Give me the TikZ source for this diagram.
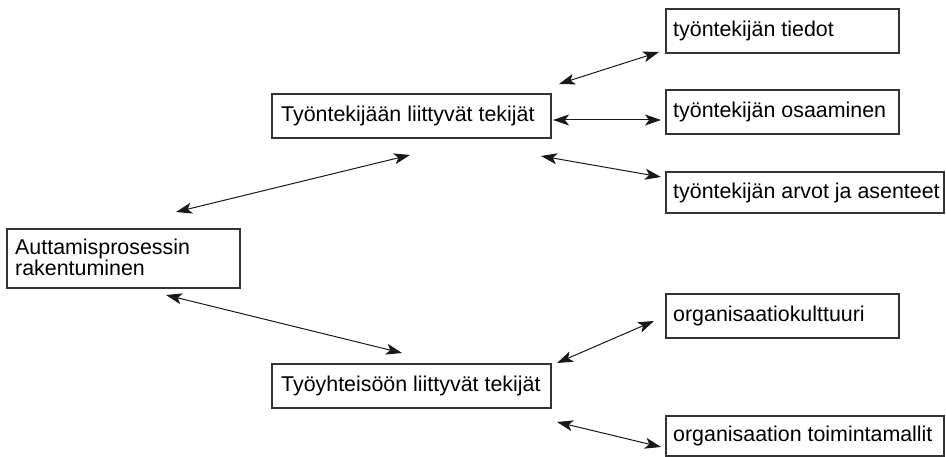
\documentclass[tikz,border=0pt]{standalone}
\usepackage{fontspec}
\setmainfont{Liberation Sans}
\usetikzlibrary{arrows.meta}
\begin{document}
\begin{tikzpicture}[x=1pt,y=-1pt,
  frame/.style={draw=black!80, line width=1.1pt, outer sep=0pt, inner sep=0pt, anchor=north west},
  txt/.style={inner sep=0pt, anchor=west, align=left, font=\fontsize{21.4}{21.5}\selectfont},
  link/.style={line width=1pt, draw=black!90,
    {Stealth[length=16pt,width=11pt,inset=4pt]}-{Stealth[length=16pt,width=11pt,inset=4pt]}}]
\useasboundingbox (0,0) rectangle (946,457);
% boxes
\node[frame, minimum width=233, minimum height=59] (aut) at (7,229) {};
\node[frame, minimum width=279, minimum height=44] (tyo) at (272,94) {};
\node[frame, minimum width=279, minimum height=44] (yht) at (272,364) {};
\node[frame, minimum width=233, minimum height=44] (tie) at (666,9) {};
\node[frame, minimum width=233, minimum height=44] (osa) at (666,90) {};
\node[frame, minimum width=278, minimum height=41] (arv) at (666,172) {};
\node[frame, minimum width=233, minimum height=44] (kul) at (666,294) {};
\node[frame, minimum width=278, minimum height=40] (toi) at (666,416) {};
% texts
\node[txt] (autt) at ([xshift=8pt,yshift=1pt]aut.west) {Auttamisprosessin\\rakentuminen};
\node[txt] (tyot) at ([xshift=9pt]tyo.west) {Työntekijään liittyvät tekijät};
\node[txt] (yhtt) at ([xshift=9pt]yht.west) {Työyhteisöön liittyvät tekijät};
\node[txt] (tiet) at ([xshift=7pt]tie.west) {työntekijän tiedot};
\node[txt] (osat) at ([xshift=7pt]osa.west) {työntekijän osaaminen};
\node[txt] (arvt) at ([xshift=7pt]arv.west) {työntekijän arvot ja asenteet};
\node[txt] (kult) at ([xshift=7pt]kul.west) {organisaatiokulttuuri};
\node[txt] (toit) at ([xshift=7pt]toi.west) {organisaation toimintamallit};
% arrow end points
\coordinate (a1) at (176,212); \coordinate (a2) at (410,155);
\coordinate (b1) at (166,295); \coordinate (b2) at (402,353);
\coordinate (c1) at (559,84);  \coordinate (c2) at (659,52);
\coordinate (d1) at (553,120); \coordinate (d2) at (661,120);
\coordinate (e1) at (541,156); \coordinate (e2) at (661,177);
\coordinate (f1) at (557,363); \coordinate (f2) at (654,321);
\coordinate (g1) at (557,422); \coordinate (g2) at (661,447);
\draw[link] (a1) -- (a2);
\draw[link] (b1) -- (b2);
\draw[link] (c1) -- (c2);
\draw[link] (d1) -- (d2);
\draw[link] (e1) -- (e2);
\draw[link] (f1) -- (f2);
\draw[link] (g1) -- (g2);
\end{tikzpicture}
\end{document}
